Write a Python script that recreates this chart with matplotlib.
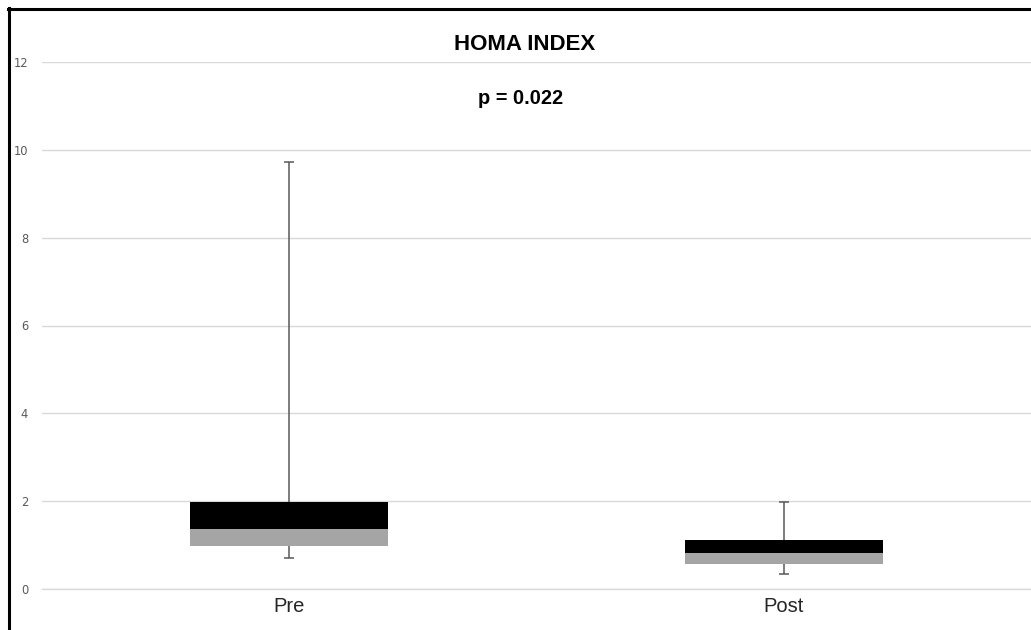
import matplotlib
matplotlib.use("Agg")
import matplotlib.pyplot as plt
from matplotlib.lines import Line2D

categories = ["Pre", "Post"]
whisker_min = [0.71, 0.34]
q1 = [0.98, 0.57]
median = [1.37, 0.82]
q3 = [1.98, 1.12]
whisker_max = [9.73, 1.98]
yticks = [0, 2, 4, 6, 8, 10, 12]
title = "HOMA INDEX"
ptext = "p = 0.022"

W, H = 1031, 630
fig = plt.figure(figsize=(W / 100, H / 100), dpi=100)
ax = fig.add_axes([42 / W, (H - 589) / H, (W - 42) / W, (589 - 62) / H])

x = list(range(len(categories)))
lower = [m - a for m, a in zip(median, q1)]
upper = [b - m for b, m in zip(q3, median)]

ax.bar(x, lower, bottom=q1, width=0.4, color="#a5a5a5", zorder=3)
ax.bar(x, upper, bottom=median, width=0.4, color="#000000", zorder=3)

# whiskers
wcol = "#595959"
ax.vlines(x, whisker_min, q1, color=wcol, linewidth=1.1, zorder=2)
ax.vlines(x, q3, whisker_max, color=wcol, linewidth=1.1, zorder=2)
ax.plot(x, whisker_min, ls="none", marker="_", markersize=6.5, markeredgewidth=1.1, color=wcol, zorder=2)
ax.plot(x, whisker_max, ls="none", marker="_", markersize=6.5, markeredgewidth=1.1, color=wcol, zorder=2)

ax.set_xlim(-0.5, 1.5)
ax.set_ylim(0, 12)
ax.set_yticks(yticks)
ax.set_yticklabels([str(t) for t in yticks], fontsize=8.3, color="#595959", family="DejaVu Sans")
ax.set_xticks(x)
ax.set_xticklabels(categories, fontsize=14.5, color="#262626", family="Liberation Sans")
ax.tick_params(axis="y", length=0, pad=10)
ax.tick_params(axis="x", length=0, pad=6)
ax.grid(axis="y", color="#d9d9d9", linewidth=1.0, zorder=0)
ax.axhline(0, color="#d9d9d9", linewidth=1.0, zorder=0, clip_on=False)
ax.set_axisbelow(True)
for s in ax.spines.values():
    s.set_visible(False)

fig.text(525 / W, 1 - 45 / H, title, ha="center", va="center", fontsize=16,
         fontweight="bold", family="Liberation Sans", color="#000000")
fig.text(521 / W, 1 - 99 / H, ptext, ha="center", va="center", fontsize=14.4,
         fontweight="bold", family="Liberation Sans", color="#000000")

# outer border (left and top)
fig.add_artist(Line2D([9 / W, 9 / W], [0, 1 - 8 / H], color="black", linewidth=2.2, transform=fig.transFigure))
fig.add_artist(Line2D([8 / W, 1], [1 - 8.5 / H, 1 - 8.5 / H], color="black", linewidth=2.2, transform=fig.transFigure))

fig.savefig("out.png", dpi=100, facecolor="white")
